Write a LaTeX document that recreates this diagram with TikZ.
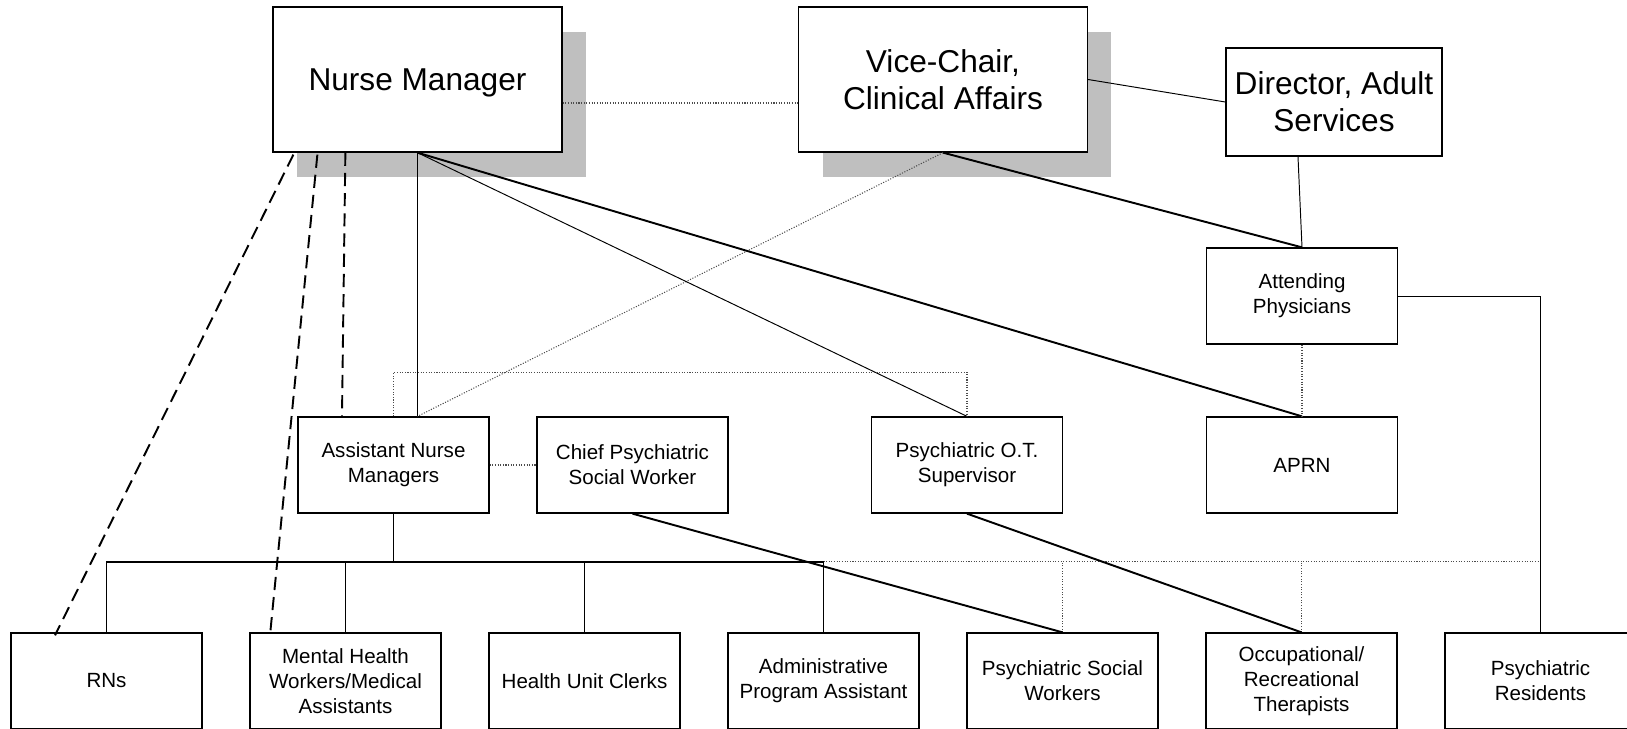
\documentclass[tikz,border=0pt]{standalone}
\usepackage{fontspec}
\setmainfont{Liberation Sans}
\usetikzlibrary{positioning,calc,shadows}

\begin{document}
\begin{tikzpicture}[
    x=0.02cm, y=-0.02cm,
    font=\fontsize{11.7}{14.2}\selectfont,
    box/.style={draw, line width=0.75pt, fill=white, align=center,
        minimum width=3.82cm, minimum height=1.92cm, inner sep=2pt},
    headbox/.style={box, minimum width=5.78cm, minimum height=2.9cm,
        font=\fontsize{18}{21}\selectfont},
    shadowed/.style={general shadow={fill=black!25, shadow xshift=0.48cm, shadow yshift=-0.5cm}},
    link/.style={line width=0.55pt},
    strong link/.style={line width=1.1pt},
    bus/.style={line width=1pt},
    dotlink/.style={line width=0.6pt, black!70, dash pattern=on 0.6pt off 0.9pt},
    dashlink/.style={line width=1.1pt, dash pattern=on 7.5pt off 4pt}
]

\useasboundingbox (0,0) rectangle (1627,728);
\clip (0,0) rectangle (1627,728);

% Top level
\node [headbox, shadowed, text depth=0pt] (nm) at (417.5,79.5) {Nurse Manager};
\node [headbox, shadowed] (vc) at (943,79.5) {Vice-Chair,\\Clinical Affairs};
\node [box, minimum width=4.32cm, minimum height=2.16cm, font=\fontsize{18}{21}\selectfont] (dir) at (1334,102) {Director, Adult\\Services};

% Middle level
\node [box] (att) at (1302,296) {Attending\\Physicians};
\node [box] (aprn) at (1302,465) {APRN};
\node [box] (anm) at (393.5,465) {Assistant Nurse\\Managers};
\node [box] (cpsw) at (632.5,465) {Chief Psychiatric\\Social Worker};
\node [box] (pot) at (967,465) {Psychiatric O.T.\\Supervisor};

% Staff row
\node [box] (rn) at (106.5,681) {RNs};
\node [box] (mhw) at (345.5,681) {Mental Health\\Workers/Medical\\Assistants};
\node [box] (huc) at (584.5,681) {Health Unit Clerks};
\node [box] (apa) at (823.5,681) {Administrative\\Program Assistant};
\node [box] (psw) at (1062.5,681) {Psychiatric Social\\Workers};
\node [box] (ort) at (1301.5,681) {Occupational/\\Recreational\\Therapists};
\node [box] (res) at (1540.5,681) {Psychiatric\\Residents};

% Top level links
\draw [dotlink] ($(nm.east)+(0,23.5)$) -- ($(vc.west)+(0,23.5)$);
\draw [link] (vc.east) -- (dir.west);
\draw [link] ($(dir.south)+(-36,0)$) -- (att.north);
\draw [strong link] (vc.south) -- (att.north);
\draw [dotlink] (vc.south) -- (nm.south |- anm.north);
\draw [link] (nm.south) -- (nm.south |- anm.north);
\draw [link] (nm.south) -- (pot.north);
\draw [strong link] (nm.south) -- (aprn.north);

% Dashed links from Nurse Manager
\draw [dashlink] ($(nm.south west)+(21,2)$) -- ($(rn.north)+(-51.5,3)$);
\draw [dashlink] ($(nm.south west)+(45,2)$) -- ($(mhw.north)+(-75.5,3)$);
\draw [dashlink] ($(nm.south west)+(73,0)$) -- ($(anm.north)+(-51.5,0)$);

% Dotted ties
\draw [dotlink] (anm.north) -- ++(0,-44) -| (pot.north);
\draw [dotlink] (anm.east) -- (cpsw.west);
\draw [dotlink] (att.south) -- (aprn.north);

% Nursing bus
\draw [bus] (anm.south) -- ++(0,48) coordinate (j);
\draw [bus] (rn.north) |- (apa.north |- j) -- (apa.north);
\foreach \n in {mhw,huc}
    \draw [bus] (\n.north) -- (\n.north |- j);

% Dotted bus
\draw [dotlink] (apa.north |- j) -- (res.north |- j);
\foreach \n in {psw,ort}
    \draw [dotlink] (\n.north) -- (\n.north |- j);
\draw [link] (att.east) -| (res.north);

% Supervisors to staff
\draw [strong link] (cpsw.south) -- (psw.north);
\draw [strong link] (pot.south) -- (ort.north);

\end{tikzpicture}
\end{document}
